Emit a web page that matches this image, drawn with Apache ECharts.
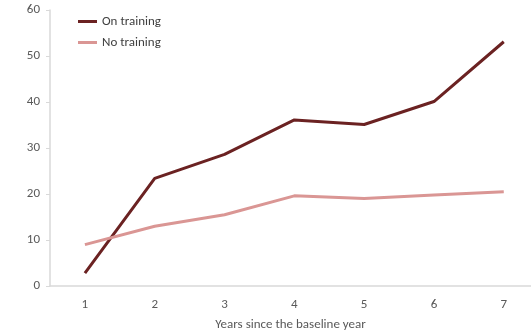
<!DOCTYPE html>
<html><head><meta charset="utf-8">
<script src="https://cdn.jsdelivr.net/npm/echarts@6/dist/echarts.min.js"></script>
<style>html,body{margin:0;padding:0;background:#fff}#c{width:531px;height:336px}</style>
</head><body><div id="c"></div>
<script>
const categories = [1, 2, 3, 4, 5, 6, 7];
const onTraining = [2.8, 23.4, 28.6, 36.1, 35.1, 40.1, 53.1];
const noTraining = [9.0, 13.0, 15.5, 19.6, 19.0, 19.8, 20.5];
const chart = echarts.init(document.getElementById('c'));
const font = 'Carlito, "Open Sans", "Liberation Sans", sans-serif';
const pair = arr => categories.map((c, i) => [c, arr[i]]);
chart.setOption({
  animation: false,
  textStyle: {fontFamily: font},
  legend: {
    orient: 'vertical', left: 73, top: 10, itemGap: 8,
    itemWidth: 19, itemHeight: 3,
    icon: 'rect',
    textStyle: {color: '#404040', fontSize: 13, fontFamily: font},
    data: ['On training', 'No training']
  },
  grid: {left: 50, right: 0, top: 10, bottom: 49, containLabel: false},
  xAxis: {
    type: 'value', min: 0.5, max: 7.39,
    name: 'Years since the baseline year', nameLocation: 'middle', nameGap: 32,
    nameTextStyle: {color: '#595959', fontSize: 13, fontFamily: font},
    axisLine: {show: true, lineStyle: {color: '#d9d9d9', width: 1.5}},
    axisTick: {show: false},
    splitLine: {show: false},
    axisLabel: {color: '#595959', fontSize: 13, margin: 12, fontFamily: font,
                customValues: categories, showMinLabel: true, showMaxLabel: true}
  },
  yAxis: {
    type: 'value', min: 0, max: 60, interval: 10,
    axisLine: {show: true, lineStyle: {color: '#d9d9d9', width: 1.5}},
    axisTick: {show: true, length: 4, lineStyle: {color: '#d9d9d9'}},
    splitLine: {show: false},
    axisLabel: {color: '#595959', fontSize: 13, margin: 10, fontFamily: font}
  },
  series: [
    {name: 'On training', type: 'line', data: pair(onTraining), symbol: 'none',
     lineStyle: {color: '#6B2222', width: 3}, itemStyle: {color: '#6B2222'}},
    {name: 'No training', type: 'line', data: pair(noTraining), symbol: 'none',
     lineStyle: {color: '#DA9694', width: 3}, itemStyle: {color: '#DA9694'}}
  ]
});
</script></body></html>
